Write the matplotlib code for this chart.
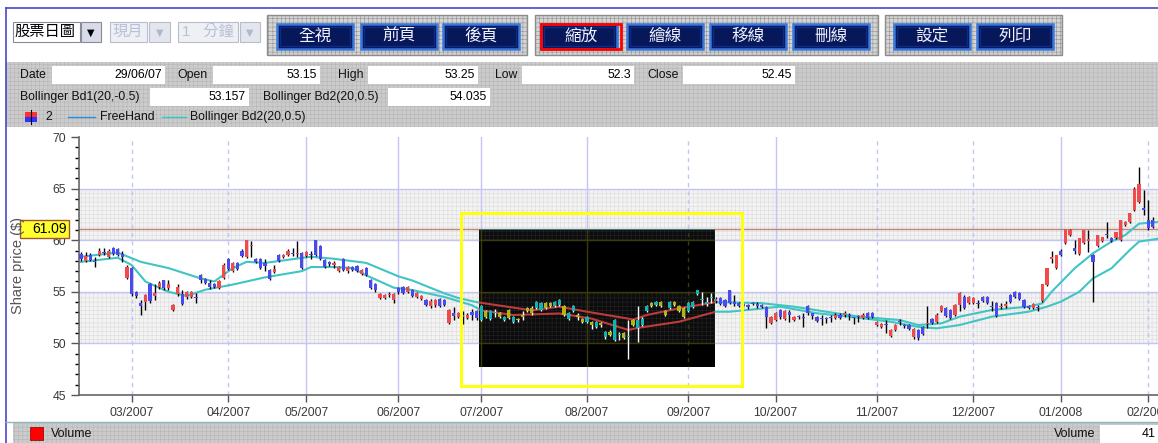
import numpy as np
import matplotlib.pyplot as plt
from matplotlib.patches import Rectangle

plt.rcParams['font.family'] = ['Liberation Sans', 'Noto Sans CJK TC', 'DejaVu Sans']
plt.rcParams['hatch.linewidth'] = 0.35

W, H = 1158, 443

# --- daily candles (one per trading day) ---
opens = [58.7, 58.0, 58.6, 58.0, 58.6, 58.9, 58.4, 59.2, 59.1, 58.7,
         56.3, 57.3, 55.0, 53.9, 54.0, 55.8, 54.6, 55.5, 56.1, 55.4,
         53.2, 54.8, 54.8, 54.5, 54.5, 54.5, 56.6, 56.2, 55.9, 55.8,
         55.4, 56.3, 58.2, 57.0, 57.8, 59.0, 58.4, 59.4, 58.2, 58.2,
         57.8, 57.1, 56.9, 58.6, 58.4, 58.6, 58.8, 58.7, 58.8, 58.5,
         58.7, 60.0, 59.4, 58.1, 57.9, 57.6, 57.0, 58.2, 57.0, 57.4,
         57.5, 56.7, 57.3, 56.1, 55.8, 54.4, 54.4, 54.7, 54.2, 55.4,
         55.5, 55.0, 55.2, 54.5, 54.3, 54.2, 53.6, 53.7, 54.3, 54.2,
         52.0, 52.9, 52.6, 52.8, 52.5, 53.0, 53.15, 52.3, 53.1, 52.4,
         52.9, 52.9, 52.3, 53.2, 52.1, 52.4, 52.8, 53.4, 53.4, 53.4,
         53.2, 53.9, 53.9, 53.6, 53.7, 53.6, 52.4, 53.1, 52.8, 52.4,
         52.1, 52.1, 51.6, 52.0, 50.6, 51.1, 50.3, 50.8, 51.0, 50.6,
         52.3, 51.5, 51.8, 53.1, 53.9, 53.7, 54.0, 53.1, 53.4, 54.0,
         53.6, 53.4, 53.1, 53.5, 54.8, 54.2, 53.8, 54.4, 54.1, 54.4,
         54.2, 55.2, 54.0, 53.9, 53.8, 53.7, 53.9, 53.8, 53.7, 53.5,
         52.0, 52.3, 53.2, 52.4, 53.0, 52.3, 52.7, 52.6, 53.6, 52.9,
         52.6, 52.5, 52.5, 52.6, 52.5, 52.8, 52.8, 52.8, 52.6, 52.7,
         52.5, 52.9, 52.9, 51.8, 51.6, 51.9, 50.7, 51.3, 52.2, 51.8,
         51.8, 50.6, 51.3, 51.6, 51.9, 52.4, 52.1, 53.1, 53.4, 53.2,
         52.8, 53.7, 54.5, 53.9, 53.9, 53.9, 54.5, 54.5, 53.6, 53.9,
         53.5, 53.6, 54.7, 55.0, 54.9, 54.2, 53.6, 53.4, 53.5, 54.1,
         55.7, 58.2, 57.3, 59.0, 59.7, 60.5, 59.2, 58.7, 59.7, 59.9,
         58.6, 59.4, 59.9, 60.6, 60.2, 60.2, 60.0, 61.5, 61.8, 62.9,
         63.7, 63.1, 62.0, 62.0]
highs = [58.9, 58.9, 58.8, 58.4, 59.2, 59.2, 59.1, 59.3, 59.2, 59.0,
         57.6, 57.4, 55.1, 54.2, 54.8, 55.9, 55.8, 56.0, 56.1, 56.1,
         53.8, 55.8, 55.2, 55.1, 55.1, 54.9, 56.7, 56.3, 56.1, 55.9,
         56.1, 57.8, 58.3, 57.9, 57.9, 59.1, 60.0, 59.9, 58.3, 58.3,
         58.2, 57.2, 57.6, 58.7, 58.7, 59.1, 59.2, 59.9, 58.9, 59.0,
         59.0, 60.0, 59.5, 58.2, 58.0, 58.0, 57.5, 58.3, 57.5, 57.5,
         57.6, 57.2, 57.4, 56.2, 55.9, 54.9, 54.8, 55.0, 54.9, 55.5,
         55.6, 55.6, 55.3, 55.0, 54.7, 54.3, 54.3, 54.3, 54.4, 54.3,
         53.3, 53.5, 53.0, 53.1, 52.9, 53.3, 53.25, 53.7, 53.2, 53.2,
         53.3, 53.0, 52.7, 53.3, 52.7, 52.5, 53.1, 53.5, 53.6, 54.1,
         54.0, 54.0, 54.0, 54.1, 54.3, 53.7, 53.0, 53.7, 52.9, 52.5,
         52.7, 52.2, 52.2, 52.1, 51.2, 51.3, 52.4, 51.1, 51.1, 52.3,
         52.4, 53.6, 52.6, 53.7, 54.0, 54.1, 54.1, 53.2, 54.1, 54.1,
         53.7, 53.5, 54.0, 54.1, 55.2, 55.0, 54.5, 54.9, 54.5, 54.5,
         54.3, 55.2, 54.7, 54.0, 53.9, 53.8, 54.0, 54.0, 53.8, 53.6,
         52.7, 53.0, 53.3, 53.2, 53.2, 52.7, 52.8, 52.9, 53.7, 52.9,
         52.7, 52.8, 52.6, 52.8, 52.9, 52.9, 53.1, 52.9, 52.6, 52.8,
         52.9, 53.0, 53.0, 52.2, 52.0, 52.3, 51.4, 51.9, 52.4, 51.9,
         51.9, 51.5, 51.4, 51.7, 53.6, 52.5, 52.9, 53.7, 53.5, 53.3,
         53.8, 55.0, 54.7, 54.6, 54.5, 54.2, 54.6, 54.6, 54.1, 54.0,
         53.9, 54.1, 54.8, 55.1, 55.0, 54.3, 53.7, 53.9, 53.7, 55.8,
         57.3, 59.0, 58.6, 59.1, 61.1, 61.1, 60.0, 60.2, 61.0, 61.0,
         58.7, 60.5, 60.3, 61.8, 60.3, 60.8, 62.0, 61.9, 62.6, 65.2,
         67.1, 64.9, 63.9, 62.2]
lows = [58.0, 57.9, 58.0, 57.4, 58.5, 58.6, 58.3, 58.6, 58.5, 57.9,
        56.2, 54.6, 54.4, 52.8, 53.2, 53.9, 54.2, 55.3, 55.2, 55.2,
        53.1, 54.6, 53.7, 54.3, 54.4, 53.9, 55.9, 55.8, 55.3, 55.4,
        55.3, 56.2, 57.1, 56.9, 57.1, 58.4, 58.3, 58.4, 57.8, 57.2,
        57.0, 56.1, 56.8, 57.9, 58.3, 58.5, 58.5, 58.4, 57.2, 58.4,
        58.2, 58.5, 58.1, 57.3, 57.5, 57.3, 56.9, 57.0, 56.8, 57.0,
        56.9, 56.6, 56.5, 55.3, 55.0, 54.3, 54.3, 54.5, 53.9, 54.8,
        54.8, 54.9, 54.5, 54.4, 54.2, 53.6, 53.4, 53.5, 53.5, 53.6,
        51.9, 52.3, 52.5, 51.9, 52.4, 52.3, 52.3, 52.2, 52.5, 52.3,
        52.6, 52.5, 52.2, 52.4, 52.0, 52.1, 52.3, 53.0, 52.8, 53.3,
        53.1, 53.3, 53.5, 53.5, 53.6, 52.7, 52.3, 53.0, 52.3, 52.0,
        52.0, 51.4, 51.5, 51.6, 50.4, 50.7, 50.2, 50.3, 50.4, 48.5,
        51.7, 50.1, 51.7, 53.0, 53.5, 53.6, 53.5, 52.7, 53.3, 53.6,
        53.0, 52.5, 53.0, 53.4, 54.7, 53.7, 53.6, 53.9, 53.9, 53.7,
        53.5, 53.8, 53.6, 53.5, 53.4, 53.3, 53.7, 53.4, 53.4, 51.5,
        51.9, 52.2, 52.4, 52.3, 52.1, 52.2, 52.4, 51.6, 52.8, 52.4,
        52.1, 51.8, 52.0, 52.1, 52.4, 52.4, 52.6, 52.3, 51.9, 52.1,
        52.4, 52.4, 52.5, 51.7, 51.5, 51.0, 50.6, 51.2, 51.8, 51.5,
        51.3, 50.4, 50.3, 50.8, 51.5, 51.9, 52.0, 53.0, 52.6, 52.4,
        52.7, 53.1, 53.3, 53.8, 53.8, 53.4, 54.0, 53.8, 53.1, 52.6,
        53.3, 53.4, 53.9, 54.4, 54.2, 53.4, 53.3, 53.3, 53.1, 54.0,
        55.6, 57.8, 57.2, 58.5, 59.6, 60.4, 58.7, 58.6, 59.6, 58.9,
        54.0, 59.3, 59.8, 60.2, 59.8, 60.1, 59.9, 61.4, 61.7, 62.8,
        63.6, 62.4, 61.0, 61.2]
closes = [58.2, 58.5, 58.1, 57.9, 59.0, 58.8, 59.0, 58.7, 58.6, 58.4,
          57.4, 54.8, 54.6, 53.6, 54.7, 54.1, 54.9, 55.9, 55.4, 55.8,
          53.7, 55.5, 53.8, 55.0, 55.0, 54.4, 56.1, 55.9, 55.5, 55.5,
          56.0, 57.6, 57.2, 57.8, 57.2, 58.5, 60.0, 59.5, 57.9, 57.3,
          57.5, 56.2, 57.2, 58.0, 58.6, 59.0, 58.7, 58.8, 57.3, 58.9,
          58.6, 58.6, 58.2, 57.4, 57.7, 57.8, 57.4, 57.1, 57.4, 57.1,
          57.0, 57.1, 56.6, 55.4, 55.2, 54.8, 54.7, 54.8, 54.8, 55.0,
          54.9, 55.5, 54.6, 54.9, 54.6, 53.7, 54.1, 54.2, 53.6, 53.7,
          53.2, 52.7, 52.9, 52.6, 52.8, 52.8, 52.45, 53.6, 52.6, 53.1,
          53.0, 52.6, 52.6, 52.5, 52.6, 52.3, 52.6, 53.1, 52.9, 54.0,
          53.9, 53.4, 53.6, 54.0, 54.2, 52.8, 52.9, 53.6, 52.6, 52.1,
          52.6, 51.8, 52.1, 51.8, 51.1, 50.8, 52.3, 50.9, 50.5, 50.7,
          51.8, 52.3, 52.4, 53.6, 53.6, 54.0, 53.6, 52.8, 54.0, 53.7,
          53.1, 52.6, 53.9, 54.0, 55.2, 54.3, 54.0, 54.5, 54.3, 53.8,
          53.6, 53.9, 53.8, 53.6, 53.6, 53.5, 53.8, 53.6, 53.5, 52.6,
          52.6, 52.9, 52.6, 53.1, 52.8, 52.6, 52.6, 52.5, 52.9, 52.7,
          52.2, 52.4, 52.4, 52.5, 52.8, 52.5, 52.9, 52.7, 52.5, 52.6,
          52.8, 52.5, 52.6, 52.1, 51.9, 51.8, 51.3, 51.8, 52.1, 51.7,
          51.4, 51.4, 50.5, 50.9, 52.0, 52.0, 52.8, 53.6, 52.7, 52.5,
          53.7, 54.9, 53.4, 54.5, 54.4, 53.8, 54.1, 53.9, 53.5, 52.7,
          53.6, 53.8, 54.0, 54.5, 54.3, 53.5, 53.4, 53.8, 53.4, 55.8,
          57.3, 58.4, 58.6, 58.6, 61.1, 61.0, 59.0, 60.2, 61.0, 60.1,
          57.9, 60.5, 60.3, 60.5, 59.9, 60.8, 62.0, 61.8, 62.6, 65.0,
          65.4, 62.9, 61.2, 61.3]

# --- the two Bollinger lines, read at a few points ---
bd2_x = [0, 8, 13, 19, 26, 29, 33, 36, 40, 45, 50, 55, 62, 69, 72, 79, 82, 86,
         98, 104, 110, 119, 120, 123, 130, 138, 148, 152, 155, 162, 169, 178,
         182, 187, 191, 198, 206, 209, 211, 216, 220, 224, 227, 230, 235]
bd2_y = [58.4, 58.8, 57.9, 57.3, 56.3, 56.0, 57.3, 57.9, 57.8, 58.1, 58.4, 58.2,
         57.8, 56.5, 56.1, 54.85, 54.4, 54.0, 53.2, 53.56, 53.07, 52.4, 52.3,
         52.75, 53.4, 54.0, 53.9, 53.7, 53.56, 53.07, 52.6, 52.26, 51.78, 51.94,
         52.59, 53.24, 53.56, 53.88, 55.0, 57.27, 58.73, 59.86, 60.5, 61.6, 61.8]
bd1_x = [0, 8, 11, 14, 19, 23, 27, 33, 40, 48, 50, 55, 59, 62, 68, 72, 79, 85,
         87, 94, 104, 111, 119, 121, 130, 138, 141, 152, 160, 167, 176, 182,
         186, 191, 198, 206, 210, 213, 217, 220, 224, 228, 230, 235]
bd1_y = [57.9, 58.3, 57.6, 56.0, 55.0, 54.6, 55.2, 55.7, 56.4, 57.0, 57.4, 57.4,
         57.3, 56.6, 55.4, 55.17, 54.5, 53.7, 53.2, 52.75, 52.9, 52.4, 51.3,
         51.5, 52.1, 53.07, 53.07, 53.56, 52.92, 52.6, 52.1, 51.6, 51.46, 51.78,
         52.59, 53.07, 53.56, 54.04, 55.0, 56.3, 57.27, 59.05, 59.86, 60.2]

month_idx = [11, 32, 49, 69, 87, 110, 132, 151, 173, 194, 213, 232]
month_labels = ['03/2007', '04/2007', '05/2007', '06/2007', '07/2007', '08/2007',
                '09/2007', '10/2007', '11/2007', '12/2007', '01/2008', '02/2008']
month_solid = [False, False, True, True, True, True, False, True, False, False, True, False]

cursor_price = 61.09
zoom_box = (82.6, 45.87, 143.7, 62.64)      # yellow frame (x0, y0, x1, y1) in data units
invert_box = (86.5, 47.71, 137.8, 61.09)    # black inverted area

row1_labels = ['Date', 'Open', 'High', 'Low', 'Close']
row1_values = ['29/06/07', '53.15', '53.25', '52.3', '52.45']
row2_labels = ['Bollinger Bd1(20,-0.5)', 'Bollinger Bd2(20,0.5)']
row2_values = ['53.157', '54.035']
buttons = ['全視', '前頁', '後頁', '縮放', '繪線', '移線', '刪線', '設定', '列印']

idx = np.arange(len(closes))
o, h, l, c = map(np.array, (opens, highs, lows, closes))

fig = plt.figure(figsize=(W / 100, H / 100), dpi=100)
fig.patch.set_facecolor('white')


def rect(x0, y0, x1, y1, **kw):
    r = Rectangle((x0 / W, 1 - y1 / H), (x1 - x0) / W, (y1 - y0) / H,
                  transform=fig.transFigure, **kw)
    fig.add_artist(r)
    return r


def txt(x, y, s, **kw):
    kw.setdefault('va', 'center')
    fig.text(x / W, 1 - y / H, s, **kw)


def hline(x0, x1, y, **kw):
    fig.add_artist(plt.Line2D([x0 / W, x1 / W], [1 - y / H] * 2, transform=fig.transFigure, **kw))


# ---------- toolbar ----------
hline(6, W, 8, color='#4848c8', lw=1.2)
fig.add_artist(plt.Line2D([6 / W] * 2, [0, 1 - 8 / H], color='#4848c8', lw=1.2,
                          transform=fig.transFigure))

# combos
rect(13, 22, 80, 42, fc='white', ec='#8a8a9a', lw=0.8)
txt(14, 32, '股票日圖', fontsize=11, color='black')
rect(81, 22, 101, 42, fc='#d8dce8', ec='#8a8a9a', lw=0.8)
txt(91, 33, '▼', fontsize=7, ha='center', color='black', family='DejaVu Sans')
rect(110, 22, 147, 42, fc='#eef0f4', ec='#b8bccc', lw=0.8)
txt(113, 32, '現月', fontsize=11, color='#b8c0d8')
rect(149, 22, 170, 42, fc='#e4e6ee', ec='#b8bccc', lw=0.8)
txt(159.5, 33, '▼', fontsize=7, ha='center', color='#b0b8d0', family='DejaVu Sans')
rect(178, 22, 238, 42, fc='#eef0f4', ec='#b8bccc', lw=0.8)
txt(182, 32, '1   分鐘', fontsize=11, color='#b8c0d8')
rect(240, 22, 260, 42, fc='#e4e6ee', ec='#b8bccc', lw=0.8)
txt(250, 33, '▼', fontsize=7, ha='center', color='#b0b8d0', family='DejaVu Sans')

# button groups
for gx0, gx1 in [(267, 527), (535, 878), (885, 1062)]:
    rect(gx0, 15, gx1, 55, fc='#d4d4d4', ec='#8c8c8c', lw=1.0, hatch='++++')
btn_x = [277, 361, 443, 541, 627, 710, 793, 894, 977]
for bx, name in zip(btn_x, buttons):
    rect(bx, 24, bx + 76, 49, fc='#06185a', ec='#3a78dc', lw=1.8)
    rect(bx + 3, 27, bx + 73, 46, fc='none', ec='#0c2a88', lw=1.0)
    if name == '縮放':
        rect(bx, 24, bx + 80, 49, fc='none', ec='#ff0000', lw=2.0)
        txt(bx + 40, 36, name, fontsize=12, ha='center', color='#f0f0ff')
    else:
        txt(bx + 38, 36, name, fontsize=12, ha='center', color='#f0f0ff')

# ---------- info panel ----------
rect(6, 62, W, 127, fc='#cbcbcb', ec='#b4b4b4', hatch='++++', lw=0)
row1_lx = [20, 177, 338, 495, 647]
row1_box = [(52, 165), (213, 320), (368, 478), (522, 634), (683, 795)]
for lab, val, lx, (b0, b1) in zip(row1_labels, row1_values, row1_lx, row1_box):
    txt(lx, 75, lab, fontsize=8.8, color='#111111')
    rect(b0, 66, b1, 84, fc='white', ec='none')
    txt(b1 - 3, 75, val, fontsize=8.8, ha='right', color='black')
row2_lx = [20, 263]
row2_box = [(150, 249), (388, 490)]
for lab, val, lx, (b0, b1) in zip(row2_labels, row2_values, row2_lx, row2_box):
    txt(lx, 97, lab, fontsize=8.8, color='#111111')
    rect(b0, 88, b1, 106, fc='white', ec='none')
    txt(b1 - 3, 97, val, fontsize=8.8, ha='right', color='black')
# legend row
rect(25, 112, 37, 117, fc='#ff3030', ec='none')
rect(25, 117, 37, 122, fc='#3030ff', ec='none')
fig.add_artist(plt.Line2D([31 / W] * 2, [1 - 110 / H, 1 - 124 / H], color='black', lw=0.8,
                          transform=fig.transFigure))
txt(45, 117, '2', fontsize=8.8, color='#111111')
hline(68, 95, 117, color='#2090e0', lw=1)
txt(100, 117, 'FreeHand', fontsize=8.8, color='#111111')
hline(162, 186, 117, color='#30c8c0', lw=1)
txt(190, 117, 'Bollinger Bd2(20,0.5)', fontsize=8.8, color='#111111')

# ---------- bottom strip ----------
rect(13, 423, W, 443, fc='#cbcbcb', ec='#b4b4b4', hatch='++++', lw=0)
hline(6, W, 422, color='#88b8b8', lw=1)
rect(30, 427, 43, 440, fc='#ff0000', ec='#800000', lw=0.5)
txt(51, 434, 'Volume', fontsize=9, color='#111111')
txt(1095, 434, 'Volume', fontsize=9, ha='right', color='#111111')
rect(1100, 425, W, 443, fc='white', ec='none')
txt(1142, 434, '41', fontsize=9, color='black')

# ---------- chart ----------
ax = fig.add_axes([79 / W, 1 - 395 / H, (1175 - 79) / W, (395 - 137) / H])
ax.set_zorder(2)
ax.set_xlim(-0.43, (1175 - 81) / 4.6)
ax.set_ylim(45, 70)
ax.set_facecolor('white')

for y0, y1 in [(50, 55), (60, 65)]:
    ax.axhspan(y0, y1, fc='#f3f3f3', ec='#dadada', hatch='++++', lw=0, zorder=0.5)
for yv in [50, 55, 60, 65]:
    ax.axhline(yv, color='#c4c4f8', lw=1, zorder=1)
for mi, solid in zip(month_idx, month_solid):
    ax.axvline(mi, color='#c4c4f8', lw=1, ls='-' if solid else (0, (3, 3)), zorder=1)
ax.axhline(cursor_price, color='#c08478', lw=1, zorder=1.5)


def draw_candles(sel, up_col, dn_col, wick_col, z, clip=None):
    ii = idx[sel]
    oo, cc = o[sel], c[sel]
    body_lo = np.minimum(oo, cc)
    body_h = np.maximum(np.abs(cc - oo), 0.08)
    cols = [up_col if cv > ov else dn_col for ov, cv in zip(oo, cc)]
    wk = ax.vlines(ii, l[sel], h[sel], color=wick_col, lw=1, zorder=z)
    bars = ax.bar(ii, body_h, bottom=body_lo, width=0.7, color=cols, lw=0, zorder=z + 0.1)
    if clip is not None:
        wk.set_clip_path(clip)
        for p in bars:
            p.set_clip_path(clip)


draw_candles(np.ones(len(idx), bool), '#f24a4a', '#4a4af2', 'black', 3)
ax.plot(bd2_x, bd2_y, color='#40c4c4', lw=1.5, zorder=2.5)
ax.plot(bd1_x, bd1_y, color='#40c4c4', lw=1.5, zorder=2.5)

# inverted (XOR) zoom area
bx0, by0, bx1, by1 = invert_box
inv = Rectangle((bx0, by0), bx1 - bx0, by1 - by0, fc='black', ec='none', zorder=5)
ax.add_patch(inv)
for y0, y1 in [(50, 55), (60, 65)]:
    p = ax.axhspan(y0, y1, fc='#0c0c0c', ec='#262626', hatch='++++', lw=0, zorder=5.1)
    p.set_clip_path(inv)
for yv in [50, 55, 60]:
    ln = ax.axhline(yv, color='#3b3b07', lw=1, zorder=5.2)
    ln.set_clip_path(inv)
for mi, solid in zip(month_idx, month_solid):
    ln = ax.axvline(mi, color='#3b3b07', lw=1, ls='-' if solid else (0, (3, 3)), zorder=5.2)
    ln.set_clip_path(inv)
ln = ax.axhline(cursor_price, color='#3f7b87', lw=1.5, zorder=5.2)
ln.set_clip_path(inv)
in_box = (idx > bx0 - 1) & (idx < bx1 + 1)
draw_candles(in_box, '#0db5b5', '#b5b50d', 'white', 5.5, clip=inv)
for bxs, bys in [(bd2_x, bd2_y), (bd1_x, bd1_y)]:
    ln, = ax.plot(bxs, bys, color='#bf3b3b', lw=1.5, zorder=5.4)
    ln.set_clip_path(inv)

zx0, zy0, zx1, zy1 = zoom_box
ax.add_patch(Rectangle((zx0, zy0), zx1 - zx0, zy1 - zy0, fill=False, ec='#ffff10',
                       lw=2.2, zorder=7, clip_on=False))

ax.set_yticks(range(45, 71, 5))
ax.set_yticks(range(45, 71), minor=True)
ax.set_xticks(month_idx)
ax.set_xticklabels(month_labels)
ax.tick_params(axis='both', colors='#555555', labelcolor='#3a3a3a', labelsize=8.8)
ax.tick_params(axis='y', which='major', length=6, width=1)
ax.tick_params(axis='y', which='minor', length=3, width=1)
ax.tick_params(axis='x', length=5, width=1, pad=4)
for s in ['top', 'right']:
    ax.spines[s].set_visible(False)
for s in ['left', 'bottom']:
    ax.spines[s].set_color('#666666')
    ax.spines[s].set_linewidth(1.2)

# price cursor label and axis title
rect(20, 220, 69, 238, fc='#ffff30', ec='#a05828', lw=1.0, zorder=3)
txt(67, 229, '61.09', fontsize=10, ha='right', color='black', zorder=4)
txt(18, 265, 'Share price ($)', fontsize=10.5, rotation=90, ha='center', color='#555555',
    zorder=5)

fig.savefig('out.png', dpi=100)
